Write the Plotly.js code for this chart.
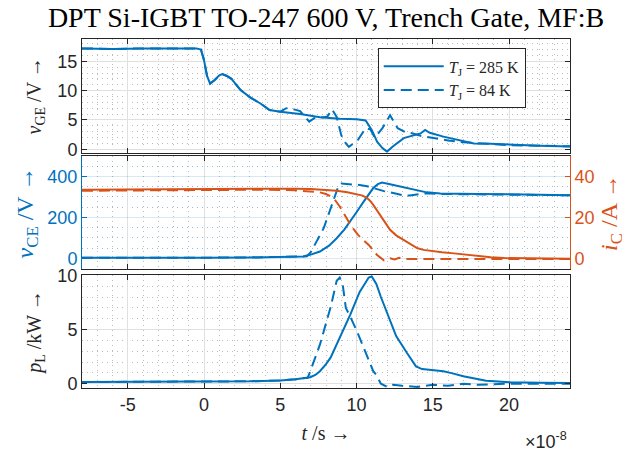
<!DOCTYPE html>
<html><head><meta charset="utf-8">
<script src="https://cdn.plot.ly/plotly-3.0.1.min.js"></script>
<style>html,body{margin:0;padding:0;background:#fff}#chart{width:632px;height:451px}</style>
</head><body><div id="chart"></div>
<script>
// time in units of 1e-8 s
const tGE285 = [-8,-6,-4,-2,-0.5,-0.2,0,0.2,0.4,0.7,1.0,1.2,1.5,1.8,2.4,3.0,3.7,4.3,5.0,6.3,7.6,8.9,10.0,10.6,11.0,11.35,11.7,12.0,12.4,13.1,13.6,14.2,14.5,14.8,15.7,16.6,17.7,18.8,20,22,24];
const vGE285 = [17.2,17.1,17.2,17.2,17.2,17.0,15.2,12.5,11.2,11.8,12.6,12.8,12.5,12.0,10.1,8.9,7.8,6.7,6.4,6.0,5.45,5.2,5.1,4.9,3.3,1.3,0.2,-0.4,0.5,1.9,2.3,2.7,3.3,2.8,2.15,1.6,1.0,0.95,0.8,0.6,0.45];
const tGE84 = [-8,-6,-4,-2,-0.5,-0.2,0,0.2,0.4,0.7,1.0,1.2,1.5,1.8,2.4,3.0,3.7,4.3,5.0,5.4,5.9,6.3,6.6,6.9,7.4,7.8,8.1,8.4,8.7,9.0,9.3,9.5,9.8,10.1,10.6,10.9,11.2,11.7,12.2,12.5,12.7,13.2,13.7,14.2,15.0,16.0,17.0,18.0,20,22,24];
const vGE84 = [17.2,17.1,17.2,17.2,17.2,17.0,15.2,12.5,11.2,11.8,12.6,12.8,12.5,12.0,10.1,8.9,7.8,6.7,6.4,7.0,6.8,6.5,5.6,4.7,5.6,5.4,5.6,6.8,5.5,2.4,1.0,0.4,1.0,1.6,3.6,3.4,2.0,3.6,5.8,4.6,3.6,2.9,2.7,2.3,1.9,1.5,1.2,1.0,0.7,0.6,0.5];

const tCE285 = [-8,-4,0,3,5,6,6.5,7,7.6,8.2,8.7,9.2,9.6,10.0,10.47,10.8,11.1,11.4,11.67,12.2,12.8,13.5,14.1,14.6,15.5,16.4,18,20,22,24];
const vCE285 = [3,2,3,4,5,7,9,18,33,62,98,140,180,225,277,315,343,362,370,362,352,343,330,322,316,314,314,313,311,308];
const tCE84 = [-8,-4,0,3,5,6,6.5,6.75,7.0,7.2,7.5,7.85,8.1,8.4,8.6,8.83,9.0,9.3,9.6,10.2,10.7,11.2,11.8,12.7,13.1,13.5,14.0,14.6,15.5,17,20,24];
const vCE84 = [3,2,3,4,5,7,9,10,30,57,100,147,200,261,310,356,365,364,362,358,352,340,328,314,306,307,312,318,314,313,312,308];

const tC285 = [-8,-4,0,4,6,7,8,8.7,9.4,10,10.4,10.7,10.9,11.1,11.35,11.6,11.9,12.2,12.6,13.1,13.5,14.0,14.4,14.85,15.6,16.4,17.2,17.9,18.8,19.7,21,24];
const iC285 = [33.5,33.7,33.8,34.0,34.0,33.8,33.5,33.0,32.3,31.4,30.6,29.4,28.0,26.1,23.3,20.4,17.0,13.9,11.2,9.0,7.0,4.9,4.1,3.6,3.0,2.4,1.7,1.1,0.5,0.1,-0.1,-0.2];
const tC84 = [-8,-4,0,4,6,6.5,7.0,7.6,8.0,8.5,8.9,9.1,9.4,9.6,10.1,10.5,10.8,11.1,11.35,11.8,12.2,12.5,12.8,13.2,14,15,16,18,20,24];
const iC84 = [33.0,33.2,33.4,33.5,33.2,33.0,32.6,32.2,31.4,29.4,25.3,22.5,19.0,16.3,11.4,8.5,6.5,3.8,1.6,-1.0,0,-0.6,0.2,-0.4,-0.3,-0.5,-0.4,-0.4,-0.3,-0.3];

const tL285 = [-8,-4,0,3,5,6,6.97,7.3,7.6,8.0,8.3,8.9,9.6,10.2,10.6,10.8,11.0,11.3,11.6,12.0,12.6,13.3,13.9,14.3,14.6,15.7,16.3,17.0,18.5,20.1,22,24];
const pL285 = [0.15,0.18,0.18,0.22,0.3,0.4,0.59,0.8,1.15,1.8,2.4,4.25,6.4,8.45,9.4,9.8,9.9,9.2,8.0,6.6,4.4,2.85,1.6,1.35,1.3,1.15,0.95,0.68,0.28,0.12,0.08,0.05];
const tL84 = [-8,-4,0,3,5,6,6.8,6.97,7.6,8.3,8.7,8.9,9.1,9.3,9.65,10.1,10.65,11.1,11.3,11.6,12.0,12.4,13,14,15,16,17,18,20,22,24];
const pL84 = [0.15,0.18,0.18,0.22,0.3,0.4,0.55,1.15,3.6,7.05,9.5,9.8,9.1,7.0,6.0,4.6,2.7,1.15,0.8,0.0,-0.3,-0.1,-0.2,-0.3,-0.1,-0.2,0,-0.1,0,0,0];

const xTickVals = [-5,0,5,10,15,20];
const xTickText = ['-5','0','5','10','15','20'];
const legendNames = ['<i>T</i><sub>J</sub> = 285 K','<i>T</i><sub>J</sub> = 84 K'];

const BLUE='#0072BD', ORANGE='#D95319', AX='#262626';
const SANS='Liberation Sans, Arial, sans-serif';
const SERIF='Liberation Serif, Times New Roman, serif';
const DASH='11px,6px';
const GRID='#e0e0e0', MINOR='#bcbcbc', MDASH='1px,4px';

function xax(showLabels){
  return {range:[-8,24], tickmode:'array', tickvals:xTickVals, ticktext:xTickText,
    showticklabels:showLabels, ticks:'inside', ticklen:5, tickcolor:AX,
    showline:true, linecolor:AX, linewidth:1, mirror:'ticks', zeroline:false,
    showgrid:true, gridcolor:GRID, gridwidth:1,
    minor:{tickmode:'linear', tick0:0, dtick:1, showgrid:true, gridcolor:MINOR, griddash:MDASH, gridwidth:1, ticks:''},
    tickfont:{family:SANS,size:18,color:AX}};
}
function yax(domain, range, dtick, mdtick, color, gcol, mcol, mirror){
  return {domain:domain, range:range, tickmode:'linear', tick0:0, dtick:dtick,
    ticks:'inside', ticklen:5, tickcolor:color, showline:true, linecolor:color, linewidth:1,
    mirror:mirror, zeroline:false, showgrid:true, gridcolor:gcol, gridwidth:1,
    minor:{tickmode:'linear', tick0:0, dtick:mdtick, showgrid:true, gridcolor:mcol, griddash:MDASH, gridwidth:1, ticks:''},
    tickfont:{family:SANS,size:18,color:color}};
}

const traces = [
  {x:tGE285, y:vGE285, xaxis:'x', yaxis:'y', mode:'lines', name:legendNames[0], line:{color:BLUE,width:2}},
  {x:tGE84, y:vGE84, xaxis:'x', yaxis:'y', mode:'lines', name:legendNames[1], line:{color:BLUE,width:2,dash:DASH}},
  {x:tCE285, y:vCE285, xaxis:'x2', yaxis:'y2', mode:'lines', showlegend:false, line:{color:BLUE,width:2}},
  {x:tCE84, y:vCE84, xaxis:'x2', yaxis:'y2', mode:'lines', showlegend:false, line:{color:BLUE,width:2,dash:DASH}},
  {x:tC285, y:iC285, xaxis:'x2', yaxis:'y4', mode:'lines', showlegend:false, line:{color:ORANGE,width:2}},
  {x:tC84, y:iC84, xaxis:'x2', yaxis:'y4', mode:'lines', showlegend:false, line:{color:ORANGE,width:2,dash:DASH}},
  {x:tL285, y:pL285, xaxis:'x3', yaxis:'y3', mode:'lines', showlegend:false, line:{color:BLUE,width:2}},
  {x:tL84, y:pL84, xaxis:'x3', yaxis:'y3', mode:'lines', showlegend:false, line:{color:BLUE,width:2,dash:DASH}}
];

const y1 = yax([0.674,1], [-0.6,18.8], 5, 1, AX, GRID, MINOR, 'ticks');
y1.title = {text:'<i>v</i><sub>GE</sub> /V →', font:{family:SERIF,size:20,color:AX}, standoff:10};
const y2 = yax([0.340,0.665], [-54,500], 200, 50, BLUE, 'rgba(0,114,189,0.16)', 'rgba(0,114,189,0.45)', false);
y2.title = {text:'<i>v</i><sub>CE</sub> /V →', font:{family:SERIF,size:24,color:BLUE}, standoff:6};
const y4 = yax([0.340,0.665], [-5.4,50], 20, 5, ORANGE, GRID, MINOR, false);
y4.overlaying='y2'; y4.side='right'; y4.anchor='x2'; y4.showgrid=false; y4.minor={showgrid:false, ticks:''};
y4.title = {text:'<i>i</i><sub>C</sub> /A →', font:{family:SERIF,size:24,color:ORANGE}, standoff:6};
const y3 = yax([0,0.324], [-0.4,10.04], 5, 1, AX, GRID, MINOR, 'ticks');
y3.title = {text:'<i>p</i><sub>L</sub> /kW →', font:{family:SERIF,size:20,color:AX}, standoff:10};

const x1 = xax(false); x1.anchor='y';
const x2 = xax(false); x2.anchor='y2'; x2.matches='x3';
const x3 = xax(true); x3.anchor='y3';
x3.title = {text:'<i>t</i> /s →', font:{family:SERIF,size:20,color:AX}, standoff:12};
x1.matches='x3';

const layout = {
  width:632, height:451, margin:{l:82,r:62,t:39,b:63},
  paper_bgcolor:'#fff', plot_bgcolor:'#fff',
  title:{text:'DPT Si-IGBT TO-247 600 V, Trench Gate, MF:B', font:{family:SERIF,size:28,color:'#000'},
    xref:'paper', x:0.5, xanchor:'center', yref:'container', y:0.962, yanchor:'middle'},
  xaxis:x1, xaxis2:x2, xaxis3:x3, yaxis:y1, yaxis2:y2, yaxis3:y3, yaxis4:y4,
  showlegend:true,
  legend:{x:0.606, y:0.973, xanchor:'left', yanchor:'top', bgcolor:'#fff', bordercolor:AX, borderwidth:1,
    font:{family:SERIF,size:16,color:AX}, itemwidth:60, tracegroupgap:0},
  annotations:[{text:'×10<sup>-8</sup>', xref:'paper', yref:'paper', x:0.997, y:-0.149, xanchor:'right', yanchor:'middle',
    showarrow:false, font:{family:SANS,size:18,color:AX}}]
};
Plotly.newPlot('chart', traces, layout, {staticPlot:true, displayModeBar:false});
</script></body></html>
